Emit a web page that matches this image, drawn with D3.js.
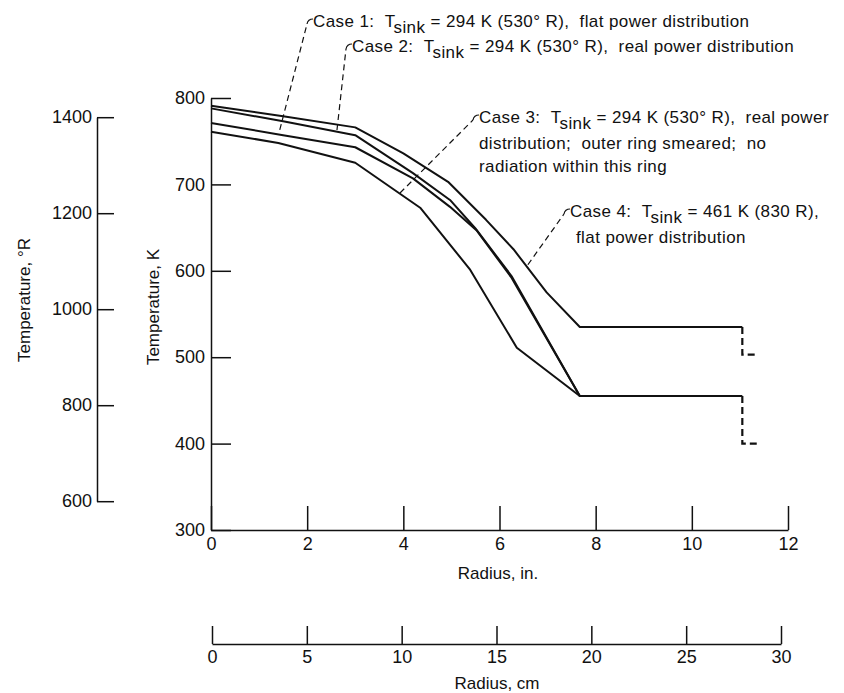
<!DOCTYPE html>
<html>
<head>
<meta charset="utf-8">
<script src="https://cdn.jsdelivr.net/npm/d3@7"></script>
<style>
body { margin:0; background:#fff; }
text { fill:#111; font-family:"Liberation Sans",Arial,sans-serif; }
.axis path, .axis line { stroke:#111; stroke-width:1.5; }
.axis text { font-size:18px; }
.note { font-size:17px; letter-spacing:0.4px; }
</style>
</head>
<body>
<script>
// radius (in.), temperature (K)
var case4 = [[0,791],[1.5,779],[3,766],[4,736],[4.93,703],[5.72,659],[6.29,625],[6.98,575],[7.67,535],[11.05,535]];
var case2 = [[0,788],[1.5,773],[3,757],[4.2,713],[4.97,682],[5.5,649],[6.25,594],[7.67,455],[11.05,455]];
var case1 = [[0,771],[1.5,757],[3,743],[4.2,707],[4.97,674],[5.52,647],[6.25,592],[7.67,455]];
var case3 = [[0,761],[1.4,748],[3,725],[4.35,673],[5.38,602],[6.36,511],[7.67,455]];

// dashed drops at the outer edge
var drop4 = [[11.05,535],[11.05,503],[11.35,503]];
var drop123 = [[11.05,455],[11.05,400],[11.35,400]];

var tempTicksK = [300,400,500,600,700,800];
var tempTicksR = [600,800,1000,1200,1400];
var radiusTicksIn = [0,2,4,6,8,10,12];
var radiusTicksCm = [0,5,10,15,20,25,30];

// where each leader line touches its curve [radius in., K]
var leaderEnds = [[1.43,763],[2.62,763],[3.93,690],[6.59,607]];

var width = 844, height = 693;

var x = d3.scaleLinear().domain([0,12]).range([211,788]);
var y = d3.scaleLinear().domain([300,800]).range([530,98]);
var yR = d3.scaleLinear().domain([600,1400]).range([y(600/1.8), y(1400/1.8)]);
var xCm = d3.scaleLinear().domain([0,30]).range([212,781]);

var fmt = d3.format("d");

var svg = d3.select("body").append("svg").attr("width",width).attr("height",height);

// axes
svg.append("g").attr("class","axis")
  .attr("transform","translate("+x(0)+",0)")
  .call(d3.axisLeft(y).tickValues(tempTicksK).tickFormat(fmt).tickSizeInner(-20).tickSizeOuter(0).tickPadding(6));

svg.append("g").attr("class","axis")
  .attr("transform","translate(97,0)")
  .call(d3.axisLeft(yR).tickValues(tempTicksR).tickFormat(fmt).tickSizeInner(-17).tickSizeOuter(0).tickPadding(5));

svg.append("g").attr("class","axis")
  .attr("transform","translate(0,"+y(300)+")")
  .call(d3.axisBottom(x).tickValues(radiusTicksIn).tickFormat(fmt).tickSizeInner(-24).tickSizeOuter(0).tickPadding(7));

svg.append("g").attr("class","axis")
  .attr("transform","translate(0,644)")
  .call(d3.axisBottom(xCm).tickValues(radiusTicksCm).tickFormat(fmt).tickSizeInner(-18).tickSizeOuter(0).tickPadding(6));

svg.selectAll(".axis text").attr("fill","#111");

// axis titles
svg.append("text").attr("transform","translate(159,307) rotate(-90)")
  .attr("text-anchor","middle").style("font-size","17px").text("Temperature, K");
svg.append("text").attr("transform","translate(30,300) rotate(-90)")
  .attr("text-anchor","middle").style("font-size","17px").text("Temperature, \u00B0R");
svg.append("text").attr("x",498).attr("y",579)
  .attr("text-anchor","middle").style("font-size","17px").text("Radius, in.");
svg.append("text").attr("x",497).attr("y",689)
  .attr("text-anchor","middle").style("font-size","17px").text("Radius, cm");

// curves
var line = d3.line().x(function(d){ return x(d[0]); }).y(function(d){ return y(d[1]); });

[case4, case2, case1, case3].forEach(function(c){
  svg.append("path").attr("d",line(c)).attr("fill","none")
    .attr("stroke","#111").attr("stroke-width",2).attr("stroke-linejoin","round");
});
[drop4, drop123].forEach(function(c){
  svg.append("path").attr("d",line(c)).attr("fill","none")
    .attr("stroke","#111").attr("stroke-width",2.2).attr("stroke-dasharray","7,4");
});

// labels with leader lines
var labels = [
  {top:[307,21], head:"Case 1:", tail:"flat power distribution", x:313, y:[27]},
  {top:[346,46], head:"Case 2:", tail:"real power distribution", x:352, y:[52]},
  {top:[473,117], head:"Case 3:", tail:"real power", more:["distribution;  outer ring smeared;  no", "radiation within this ring"], x:479, y:[123,149,172]},
  {top:[564,211], head:"Case 4:", tail:"", more:["flat power distribution"], x:570, y:[217,243]}
];
var sinks = ["294 K (530\u00B0 R),", "294 K (530\u00B0 R),", "294 K (530\u00B0 R),", "461 K (830 R),"];

labels.forEach(function(l,i){
  var end = leaderEnds[i];
  svg.append("path")
    .attr("d","M"+x(end[0])+","+y(end[1])+"L"+l.top[0]+","+(l.top[1]+3))
    .attr("fill","none").attr("stroke","#111").attr("stroke-width",1.2).attr("stroke-dasharray","6,4");
  svg.append("path")
    .attr("d","M"+l.top[0]+","+(l.top[1]+3)+"Q"+(l.top[0]+1)+","+(l.top[1]-2)+" "+(l.top[0]+6)+","+(l.top[1]-2))
    .attr("fill","none").attr("stroke","#111").attr("stroke-width",1.2);

  var t = svg.append("text").attr("class","note").attr("x",l.x).attr("y",l.y[0]);
  t.append("tspan").text(l.head + "\u00A0\u00A0T");
  t.append("tspan").attr("dy",6).text("sink");
  t.append("tspan").attr("dy",-6).text(" = " + sinks[i] + (l.tail ? "\u00A0\u00A0" + l.tail : ""));
  (l.more || []).forEach(function(s,j){
    svg.append("text").attr("class","note").attr("x",l.x + (i === 3 ? 6 : 0)).attr("y",l.y[j+1])
      .style("white-space","pre").text(s);
  });
});
</script>
</body>
</html>
